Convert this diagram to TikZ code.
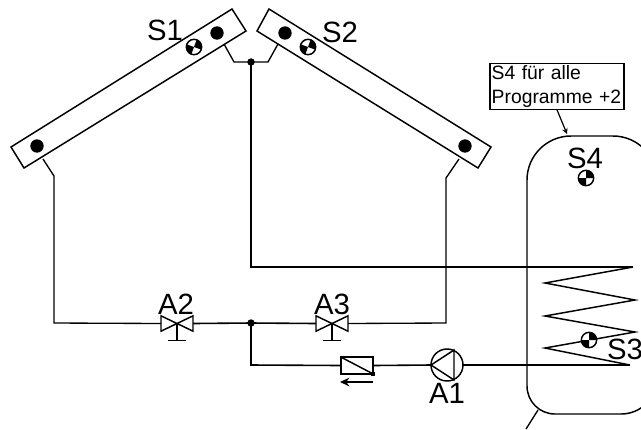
\documentclass[tikz,border=0pt]{standalone}
\usepackage{fontspec}
\setmainfont{Liberation Sans}
\usetikzlibrary{arrows.meta}
\begin{document}
\begin{tikzpicture}[x=0.75pt,y=-0.75pt,inner sep=0pt,outer sep=0pt,line width=1pt,
lbl/.style={font=\fontsize{22}{24}\selectfont},
panel/.style={draw,fill=white,line width=1.1pt},
portdot/.style={draw,circle,fill=black,minimum size=9pt},
joint/.style={draw,circle,fill=black,minimum size=4.5pt},
probe/.style={draw,circle,fill=white,line width=1.1pt,minimum size=11.5pt,
  path picture={\fill[black] (path picture bounding box.center) -- ++(#1:12pt) -- ++(#1+135:17pt) -- cycle;
  \fill[black] (path picture bounding box.center) -- ++(#1+180:12pt) -- ++(#1+315:17pt) -- cycle;}},
valve/.style={minimum width=24pt,minimum height=11.5pt},
pipe/.style={draw,line width=1.2pt},
thin pipe/.style={draw,line width=1pt}]

\useasboundingbox (0,0) rectangle (641,429);
\fill[white] (0,0) rectangle (641,429);
\clip (0,0) rectangle (641,429);

% collectors
\draw[panel] (11,147) -- (232,9) -- (246,31) -- (24,168) -- cycle;
\draw[panel] (257,31) -- (269,9) -- (491,147) -- (478,168) -- cycle;
\node[portdot] (d1) at (37,146) {};
\node[portdot] (d2) at (217,33) {};
\node[portdot] (d3) at (285,33) {};
\node[portdot] (d4) at (465,146) {};
\node[probe=-20] (s1) at (194,47) {};
\node[probe=-20] (s2) at (308,47) {};
\node[lbl] (S1) at (165,30) {S1};
\node[lbl] (S2) at (340,32) {S2};

% tank
\draw[line width=1.1pt,rounded corners=33pt] (527,300) -- (527,136) -- (657,136)
  [rounded corners=27pt] -- (657,414) [rounded corners=21pt] -- (527,414) -- (527,300);
\node[lbl] (S4) at (585,158) {S4};
\node[probe=0] (s4) at (586,178) {};
\node[draw,line width=0.9pt,fill=white,minimum width=100.5pt,minimum height=35pt,align=left,
  font=\fontsize{14.5}{18}\selectfont,text width=98pt] (note) at (557,86.5) {S4 für alle\\Programme +2};
\coordinate (tanktop) at (567,134);
\draw[->,>=stealth,line width=0.9pt] (note.south) -- (tanktop);

% pipes, upper junction
\coordinate (c1) at (224,44);
\coordinate (c2) at (234,62);
\coordinate (c3) at (268,62);
\coordinate (c4) at (278,44);
\node[joint] (j1) at (251,62) {};
\draw[thin pipe] (c1) -- (c2) -- (j1) -- (c3) -- (c4);

% valves
\node[valve] (v2) at (177,323.5) {};
\node[valve] (v3) at (332,323.5) {};
\foreach \v in {v2,v3}{
  \draw[line width=1.1pt] (\v.north west) -- (\v.south east) -- (\v.north east) -- (\v.south west) -- cycle;
  \draw[line width=1pt] (\v.center) -- ++(0,17) ++(-9,0) -- ++(18,0);
}
\node[lbl] (A2) at (176,304) {A2};
\node[lbl] (A3) at (332,304) {A3};
\node[joint] (j2) at (251,323) {};

% check valve
\node[draw,line width=1.1pt,minimum width=24pt,minimum height=12.5pt] (chk) at (357,365.5) {};
\draw[line width=1.1pt] (chk.north west) -- (chk.south east);
\fill (chk.south east) ++(-2,-2) rectangle ++(4,4);
\coordinate (fl1) at (373,382);
\coordinate (fl2) at (340,382);
\draw[-{Stealth[length=7pt,width=6.5pt]},line width=1.1pt] (fl1) -- (fl2);

% pump
\node[draw,circle,line width=1.1pt,fill=white,minimum size=24pt] (pump) at (447,365) {};
\draw[line width=1.1pt] (pump.180) -- (454,350) -- (454,380) -- cycle;
\node[lbl] (A1) at (447,393) {A1};

% pipes
\coordinate (a1) at (43,159);
\coordinate (a2) at (54,176);
\coordinate (a3) at (54,323);
\coordinate (b1) at (459,159);
\coordinate (b2) at (446,178);
\coordinate (b3) at (446,323);
\coordinate (e1) at (251,267);
\coordinate (e2) at (633,267);
\coordinate (f1) at (251,365);
\coordinate (f2) at (630,365);
\draw[thin pipe] (a1) -- (a2) -- (a3) -- (v2.west);
\draw[pipe] (v2.east) -- (j2) -- (v3.west);
\draw[thin pipe] (v3.east) -- (b3) -- (b2) -- (b1);
\draw[pipe] (j1) -- (e1) -- (e2);
\draw[pipe] (j2) -- (f1) -- (chk.west);
\draw[pipe] (chk.east) -- (pump.west);
\draw[pipe] (pump.east) -- (f2);

% heat exchanger
\draw[line width=1.1pt] (e2) -- (545,283) -- (635,300) -- (545,316) -- (635,332) -- (545,348) -- (f2);
\node[probe=0] (s3) at (589,340) {};
\node[lbl] (S3) at (625,349) {S3};

% outlet
\coordinate (o1) at (538,410);
\coordinate (o2) at (526,429);
\draw[thin pipe] (o1) -- (o2);
\end{tikzpicture}
\end{document}
